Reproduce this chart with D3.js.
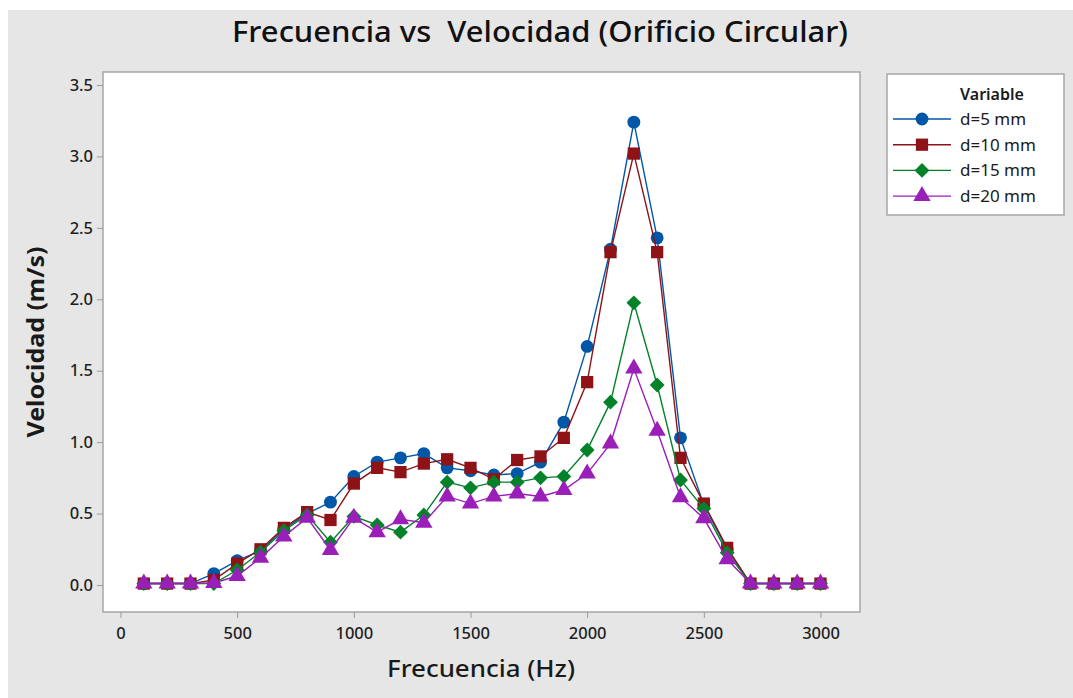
<!DOCTYPE html>
<html>
<head>
<meta charset="utf-8">
<script src="https://cdn.jsdelivr.net/npm/d3@7"></script>
<style>
  body { margin: 0; background: #fff; }
  svg { display: block; font-family: "Noto Sans", "Open Sans", sans-serif; }
</style>
</head>
<body>
<div id="chart"></div>
<script>
// data
const frecuencia = [100, 200, 300, 400, 500, 600, 700, 800, 900, 1000,
    1100, 1200, 1300, 1400, 1500, 1600, 1700, 1800, 1900, 2000,
    2100, 2200, 2300, 2400, 2500, 2600, 2700, 2800, 2900, 3000]
const d5 = [0.01, 0.01, 0.01, 0.08, 0.17, 0.24, 0.39, 0.50, 0.58, 0.76,
    0.86, 0.89, 0.92, 0.82, 0.80, 0.77, 0.78, 0.86, 1.14, 1.67,
    2.35, 3.24, 2.43, 1.03, 0.56, 0.25, 0.01, 0.01, 0.01, 0.01]
const d10 = [0.01, 0.01, 0.01, 0.035, 0.15, 0.25, 0.40, 0.51, 0.455, 0.71,
    0.82, 0.79, 0.85, 0.88, 0.82, 0.74, 0.875, 0.90, 1.03, 1.42,
    2.33, 3.02, 2.33, 0.89, 0.57, 0.26, 0.01, 0.01, 0.01, 0.01]
const d15 = [0.01, 0.01, 0.01, 0.01, 0.105, 0.23, 0.38, 0.49, 0.30, 0.48,
    0.42, 0.37, 0.49, 0.72, 0.68, 0.72, 0.72, 0.75, 0.76, 0.945,
    1.28, 1.975, 1.40, 0.735, 0.535, 0.225, 0.01, 0.01, 0.01, 0.01]
const d20 = [0.01, 0.01, 0.01, 0.014, 0.063, 0.19, 0.34, 0.47, 0.245, 0.47,
    0.37, 0.46, 0.436, 0.62, 0.57, 0.62, 0.64, 0.62, 0.665, 0.78,
    0.99, 1.515, 1.08, 0.614, 0.467, 0.18, 0.01, 0.01, 0.01, 0.01]
const seriesNames = ["d=5 mm", "d=10 mm", "d=15 mm", "d=20 mm"]
const xTicks = [0, 500, 1000, 1500, 2000, 2500, 3000]
const yTicks = [0, 0.5, 1, 1.5, 2, 2.5, 3, 3.5]

const width = 1073
const height = 698
const frame = {left: 103, top: 72, right: 860, bottom: 612}

const colors = ["#0057A8", "#8E1216", "#04822A", "#9A1EB8"]
// diamond = square turned 45 degrees
const symbols = [d3.symbolCircle, d3.symbolSquare, d3.symbolSquare, d3.symbolTriangle]
const symRotate = [0, 0, 45, 0]
const symSizes = [130, 150, 110, 130]

const series = [d5, d10, d15, d20].map(function(vals, i) {
    return {
        name: seriesNames[i],
        values: vals.map(function(v, j) { return {x: frecuencia[j], y: v} })
    }
})

const svg = d3.select("#chart")
    .append("svg")
    .attr("width", width)
    .attr("height", height)

// grey panel with thin white strip on top/left
svg.append("rect")
    .attr("x", 8).attr("y", 10)
    .attr("width", width - 8).attr("height", height - 10)
    .attr("fill", "#e6e6e6")

// scales: 0..3000 spans 120.5..820.5, 0..3.5 spans 585..85
const x = d3.scaleLinear().domain([0, 3000]).range([120.5, 820.5])
const y = d3.scaleLinear().domain([0, 3.5]).range([585, 85])

svg.append("rect")
    .attr("x", frame.left).attr("y", frame.top)
    .attr("width", frame.right - frame.left)
    .attr("height", frame.bottom - frame.top)
    .attr("fill", "#fff")
    .attr("stroke", "#a6a6a6")
    .attr("stroke-width", 1.5)

svg.append("rect")
    .attr("x", 887).attr("y", 74)
    .attr("width", 177).attr("height", 141)
    .attr("fill", "#fff")
    .attr("stroke", "#a6a6a6")
    .attr("stroke-width", 1.5)

const xAxis = svg.append("g")
    .attr("transform", "translate(0," + frame.bottom + ")")
    .call(d3.axisBottom(x).tickValues(xTicks).tickSize(6).tickSizeOuter(0).tickPadding(9)
        .tickFormat(d3.format("d")))
xAxis.select(".domain").remove()

const yAxis = svg.append("g")
    .attr("transform", "translate(" + frame.left + ",0)")
    .call(d3.axisLeft(y).tickValues(yTicks).tickSize(6).tickSizeOuter(0).tickPadding(4)
        .tickFormat(d3.format(".1f")))
yAxis.select(".domain").remove()

svg.selectAll(".tick line").attr("stroke", "#9a9a9a")
svg.selectAll(".tick text")
    .attr("fill", "#1e1e1e")
    .style("font-size", "16.5px")
    .style("font-weight", 500)
    .style("font-family", "'Noto Sans', sans-serif")

// title and axis labels
svg.append("text")
    .attr("x", 540).attr("y", 42)
    .attr("text-anchor", "middle")
    .style("font-size", "29px")
    .style("font-weight", 500)
    .attr("fill", "#111")
    .attr("textLength", 616)
    .attr("lengthAdjust", "spacingAndGlyphs")
    .attr("xml:space", "preserve")
    .text("Frecuencia vs  Velocidad (Orificio Circular)")

svg.append("text")
    .attr("x", 481).attr("y", 677)
    .attr("text-anchor", "middle")
    .style("font-size", "23px")
    .style("font-weight", 500)
    .attr("fill", "#1a1a1a")
    .attr("textLength", 188)
    .attr("lengthAdjust", "spacingAndGlyphs")
    .text("Frecuencia (Hz)")

svg.append("text")
    .attr("transform", "translate(44,342) rotate(-90)")
    .attr("text-anchor", "middle")
    .style("font-size", "23px")
    .style("font-weight", 700)
    .attr("fill", "#1a1a1a")
    .attr("textLength", 191)
    .attr("lengthAdjust", "spacingAndGlyphs")
    .text("Velocidad (m/s)")

// lines and markers
const line = d3.line()
    .x(function(d) { return x(d.x) })
    .y(function(d) { return y(d.y) })

const groups = svg.selectAll("g.serie")
    .data(series)
    .enter()
    .append("g")
    .attr("class", "serie")

groups.append("path")
    .attr("d", function(d) { return line(d.values) })
    .attr("fill", "none")
    .attr("stroke", function(d, i) { return colors[i] })
    .attr("stroke-width", 1.4)

groups.each(function(s, i) {
    d3.select(this).selectAll("path.pt")
        .data(s.values)
        .enter()
        .append("path")
        .attr("class", "pt")
        .attr("d", d3.symbol().type(symbols[i]).size(symSizes[i]))
        .attr("transform", function(d) {
            return "translate(" + x(d.x) + "," + y(d.y) + ") rotate(" + symRotate[i] + ")"
        })
        .attr("fill", colors[i])
})

// legend
const legend = svg.append("g")

legend.append("text")
    .attr("x", 960).attr("y", 100)
    .style("font-size", "16px")
    .style("font-weight", 600)
    .attr("fill", "#1a1a1a")
    .text("Variable")

const items = legend.selectAll("g.item")
    .data(seriesNames)
    .enter()
    .append("g")
    .attr("class", "item")
    .attr("transform", function(d, i) { return "translate(0," + (119 + i * 25.7) + ")" })

items.append("line")
    .attr("x1", 893).attr("x2", 951)
    .attr("stroke", function(d, i) { return colors[i] })
    .attr("stroke-width", 1.4)
items.append("path")
    .attr("d", function(d, i) { return d3.symbol().type(symbols[i]).size(symSizes[i])() })
    .attr("transform", function(d, i) { return "translate(922,0) rotate(" + symRotate[i] + ")" })
    .attr("fill", function(d, i) { return colors[i] })
items.append("text")
    .attr("x", 960).attr("y", 6)
    .style("font-size", "17px")
    .attr("fill", "#1a1a1a")
    .text(function(d) { return d })
</script>
</body>
</html>
